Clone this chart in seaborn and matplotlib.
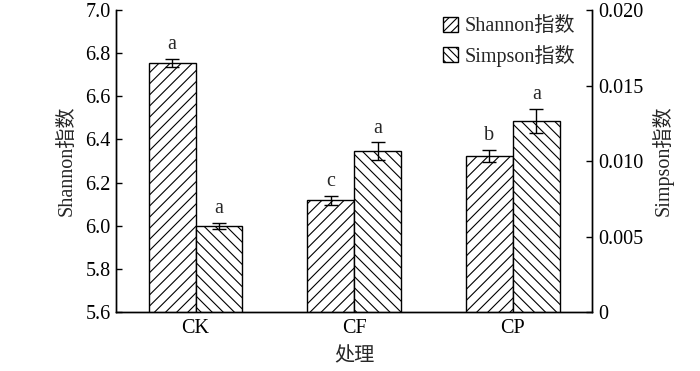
import matplotlib
matplotlib.use("Agg")
import matplotlib.pyplot as plt
import seaborn as sns
import pandas as pd
import numpy as np
from matplotlib.patches import Patch
from matplotlib.ticker import FuncFormatter

# data
treatments = ["CK", "CF", "CP"]
shannon = [6.755, 6.118, 6.323]
shannon_err = [0.020, 0.022, 0.029]
shannon_sig = ["a", "c", "b"]
simpson = [0.00572, 0.01065, 0.01267]
simpson_err = [0.00020, 0.00058, 0.00080]
simpson_sig = ["a", "a", "a"]
series = ["Shannon指数", "Simpson指数"]

sns.set_theme(style="ticks")
plt.rcParams["font.family"] = ["Liberation Serif", "Noto Sans CJK SC"]
plt.rcParams["hatch.linewidth"] = 0.8
fs = 14.5

# long tables: each axis gets its own series, the other left empty so dodge keeps slots
df_sh = pd.DataFrame({"处理": treatments * 2, "series": [series[0]] * 3 + [series[1]] * 3,
                      "value": shannon + [np.nan] * 3})
df_si = pd.DataFrame({"处理": treatments * 2, "series": [series[0]] * 3 + [series[1]] * 3,
                      "value": [np.nan] * 3 + simpson})

fig = plt.figure(figsize=(7, 3.71), dpi=100)
ax = fig.add_axes([0.166, 0.159, 0.680, 0.814])
ax2 = ax.twinx()

sns.barplot(data=df_sh, x="处理", y="value", hue="series", hue_order=series, order=treatments,
            ax=ax, width=0.59, palette=["white", "white"], edgecolor="black",
            linewidth=1.0, errorbar=None, legend=False, saturation=1)
sns.barplot(data=df_si, x="处理", y="value", hue="series", hue_order=series, order=treatments,
            ax=ax2, width=0.59, palette=["white", "white"], edgecolor="black",
            linewidth=1.0, errorbar=None, legend=False, saturation=1)

ax.set_ylim(5.6, 7.0)
ax2.set_ylim(0, 0.020)
ax.set_xlim(-0.5, 2.5)

sh_bars = [p for p in ax.patches if np.isfinite(p.get_height()) and p.get_height() > 0]
si_bars = [p for p in ax2.patches if np.isfinite(p.get_height()) and p.get_height() > 0]
for p in sh_bars:
    p.set_hatch("///")
for p in si_bars:
    p.set_hatch("\\\\\\")

for bars, vals, errs, sig, a, off in [(sh_bars, shannon, shannon_err, shannon_sig, ax, 0.022),
                                      (si_bars, simpson, simpson_err, simpson_sig, ax2, 0.0003)]:
    xs = [p.get_x() + p.get_width() / 2 for p in bars]
    a.errorbar(xs, vals, yerr=errs, fmt="none", ecolor="black", elinewidth=1.0,
               capsize=5, capthick=1.0)
    for x, v, e, s in zip(xs, vals, errs, sig):
        a.text(x, v + e + off, s, ha="center", va="bottom", fontsize=fs)

ax.set_yticks(np.arange(5.6, 7.01, 0.2))
ax.yaxis.set_major_formatter(FuncFormatter(lambda v, p: f"{v:.1f}"))
ax2.set_yticks([0, 0.005, 0.010, 0.015, 0.020])
ax2.yaxis.set_major_formatter(FuncFormatter(lambda v, p: "0" if v == 0 else f"{v:.3f}"))

ax.tick_params(axis="y", direction="in", length=4, width=1, labelsize=fs, colors="black", pad=4)
ax2.tick_params(axis="y", direction="in", length=4, width=1, labelsize=fs, colors="black", pad=4)
ax.tick_params(axis="x", length=0, labelsize=fs, colors="black", pad=5)

for a in (ax, ax2):
    a.spines["top"].set_visible(False)
    for s in ("left", "right", "bottom"):
        a.spines[s].set_linewidth(1.0)
        a.spines[s].set_color("black")

ax.set_xlabel("处理", fontsize=fs, labelpad=7)
ax.set_ylabel("Shannon指数", fontsize=fs, labelpad=6)
ax2.set_ylabel("Simpson指数", fontsize=fs, labelpad=6)

handles = [Patch(facecolor="white", edgecolor="black", hatch="////", label=series[0]),
           Patch(facecolor="white", edgecolor="black", hatch="\\\\\\\\", label=series[1])]
ax2.legend(handles=handles, loc="upper right", frameon=False, fontsize=fs,
           handlelength=0.75, handleheight=0.75, handletextpad=0.3, labelspacing=0.4,
           borderaxespad=0.1, bbox_to_anchor=(0.985, 1.01))

fig.savefig("out.png", dpi=100)
